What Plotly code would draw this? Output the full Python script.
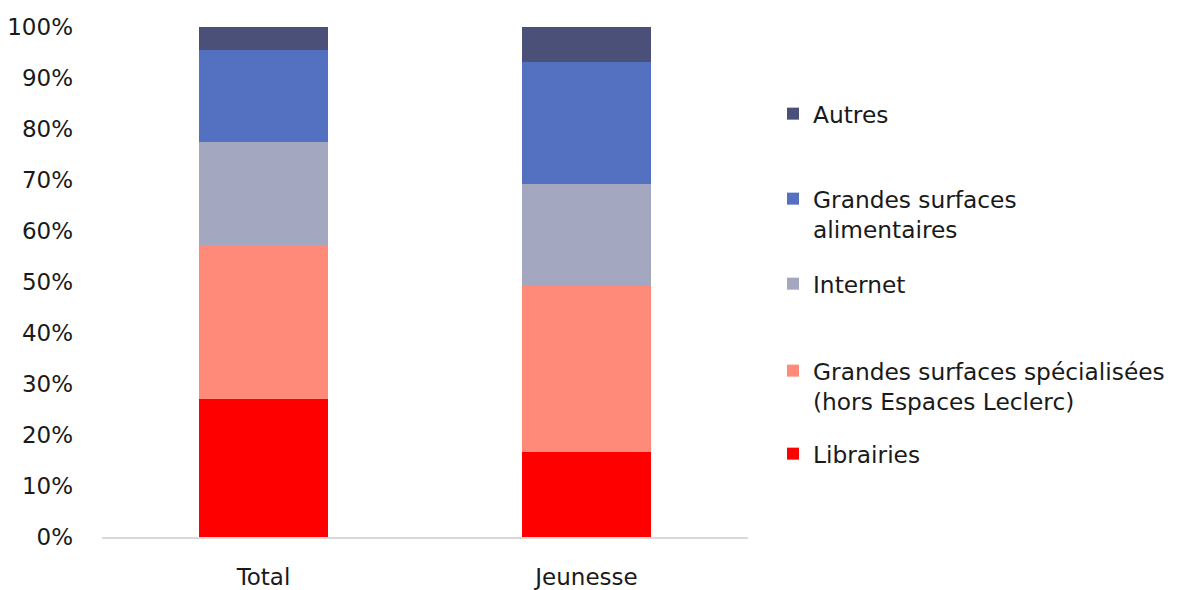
import plotly.graph_objects as go

categories = ["Total", "Jeunesse"]
series_names = [
    "Librairies",
    "Grandes surfaces spécialisées<br>(hors Espaces Leclerc)",
    "Internet",
    "Grandes surfaces<br>alimentaires",
    "Autres",
]
librairies = [27.1, 16.6]
gss = [30.1, 32.6]
internet = [20.2, 20.1]
gsa = [18.0, 23.9]
autres = [4.6, 6.8]
series_values = [librairies, gss, internet, gsa, autres]
colors = ["#ff0000", "#ff8a7a", "#a3a7c0", "#5470c0", "#4a5078"]
tick_vals = list(range(0, 101, 10))
tick_text = [f"{v}%" for v in tick_vals]

FONT = "DejaVu Sans"
FS_AX = 23
FS_LEG = 23.3
legend_ids = ["legend5", "legend4", "legend3", "legend2", "legend"]
legend_y = [455, 372, 285, 200, 115]  # first-line centers (px from top)

fig = go.Figure()
for name, vals, col, lid in zip(series_names, series_values, colors, legend_ids):
    fig.add_trace(go.Bar(x=categories, y=vals, name=name, marker_color=col,
                         marker_line_width=0, legend=lid, showlegend=True))

layout_legends = {}
for lid, ly in zip(legend_ids, legend_y):
    layout_legends[lid] = dict(
        x=765 / 1180, xref="container", xanchor="left",
        y=1 - (ly - 31) / 590, yref="container", yanchor="top",
        valign="top", bgcolor="rgba(0,0,0,0)",
        font=dict(family=FONT, size=FS_LEG, color="#1a1a1a"),
        itemclick=False, itemdoubleclick=False,
    )

fig.update_layout(
    barmode="stack",
    bargap=0.6,
    showlegend=True,
    width=1180, height=590,
    margin=dict(l=94, r=440, t=19, b=61, autoexpand=False),
    paper_bgcolor="white", plot_bgcolor="white",
    font=dict(family=FONT, size=FS_AX, color="#1a1a1a"),
    **layout_legends,
)
fig.update_yaxes(range=[0, 100], tickvals=tick_vals, ticktext=tick_text,
                 showgrid=False, zeroline=False, showline=False, automargin=False,
                 ticklabelstandoff=28, tickfont=dict(size=FS_AX, color="#1a1a1a"))
fig.update_xaxes(showline=True, linecolor="#d9d9d9", linewidth=1.5,
                 showgrid=False, ticklabelstandoff=19, automargin=False,
                 tickfont=dict(size=FS_AX, color="#1a1a1a"))

fig.write_html("out.html")
